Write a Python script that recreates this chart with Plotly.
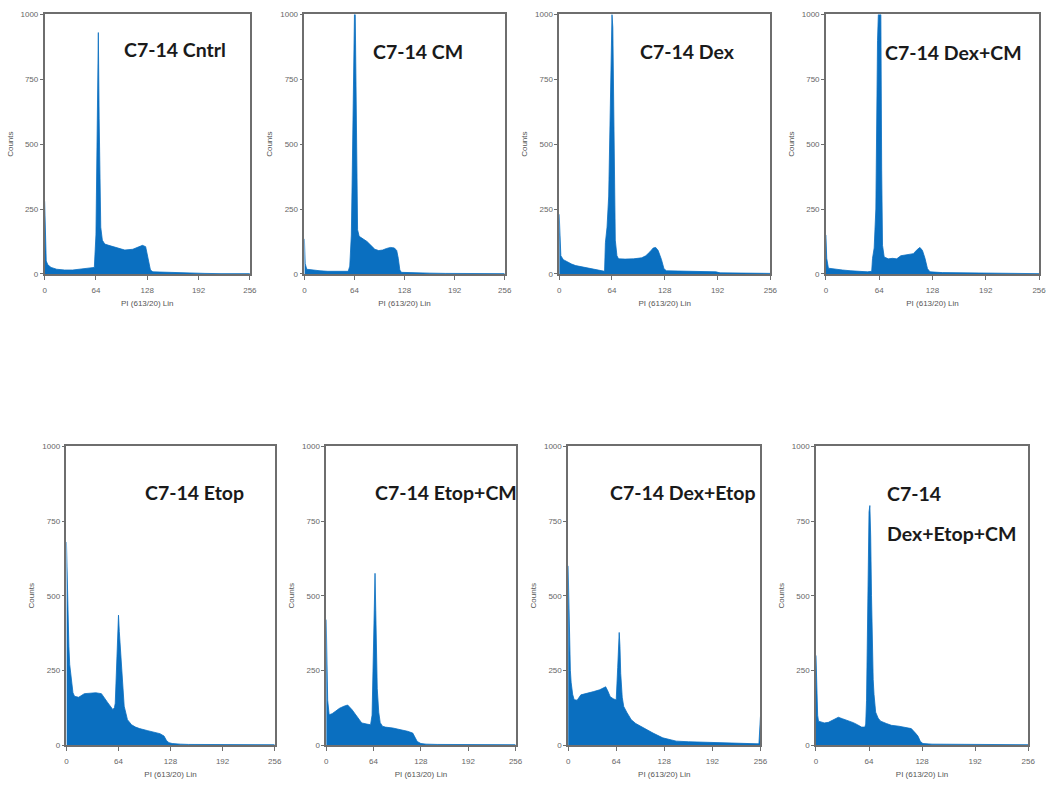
import plotly.graph_objects as go

# ---------------- data (channel, counts) ----------------
titles = ["C7-14 Cntrl", "C7-14 CM", "C7-14 Dex", "C7-14 Dex+CM",
          "C7-14 Etop", "C7-14 Etop+CM", "C7-14 Dex+Etop", "C7-14<br>Dex+Etop+CM"]

x_cntrl = [0, 1, 2, 4, 8, 15, 25, 35, 45, 55, 62, 64, 65, 66, 67, 68, 69, 70, 72, 75, 80, 90, 100,
           110, 118, 122, 126, 129, 132, 135, 150, 165, 180, 200, 220, 256]
y_cntrl = [280, 120, 50, 35, 25, 18, 15, 15, 18, 22, 25, 150, 400, 700, 930, 600, 300, 180, 130, 115,
           110, 100, 92, 95, 105, 110, 105, 60, 15, 8, 6, 4, 3, 2, 1, 1]

x_cm = [0, 1, 3, 10, 20, 30, 40, 50, 56, 58, 60, 61, 62, 63, 64, 65, 66, 67, 68, 70, 75, 80, 85,
        90, 95, 100, 105, 110, 115, 118, 120, 122, 124, 140, 160, 180, 256]
y_cm = [135, 40, 18, 15, 12, 10, 10, 8, 10, 30, 150, 350, 650, 900, 1000, 1000, 700, 350, 170, 145,
        135, 125, 110, 95, 90, 92, 98, 102, 100, 90, 60, 15, 6, 4, 3, 2, 1]

x_dex = [0, 1, 2, 5, 10, 15, 20, 30, 40, 50, 55, 56, 58, 60, 62, 63, 64, 65, 66, 67, 68, 70, 72,
         80, 90, 100, 105, 110, 114, 117, 120, 124, 127, 130, 150, 170, 190, 195, 220, 256]
y_dex = [230, 100, 70, 55, 45, 38, 32, 25, 18, 12, 10, 120, 180, 300, 600, 850, 1000, 950, 600, 250,
         130, 70, 58, 57, 58, 62, 70, 85, 100, 102, 90, 55, 20, 12, 10, 9, 8, 4, 3, 2]

x_dexcm = [0, 1, 3, 10, 20, 30, 40, 50, 55, 56, 58, 60, 62, 63, 64, 65, 66, 67, 68, 70, 75, 80, 85,
           90, 95, 100, 105, 110, 113, 116, 119, 122, 125, 140, 160, 175, 200, 256]
y_dexcm = [150, 60, 22, 18, 15, 12, 10, 8, 10, 60, 100, 250, 900, 1000, 1000, 1000, 1000, 400, 110, 65,
           58, 60, 58, 70, 72, 75, 78, 95, 102, 90, 60, 20, 8, 5, 4, 3, 1, 1]

x_etop = [0, 1, 2, 3, 4, 6, 8, 10, 15, 22, 30, 36, 43, 48, 51, 57, 59, 60, 62, 63, 64, 65, 67, 69,
          71, 75, 80, 85, 90, 100, 110, 115, 120, 123, 126, 130, 140, 150, 256]
y_etop = [680, 520, 420, 330, 270, 210, 175, 163, 160, 172, 175, 175, 172, 150, 141, 119, 125, 140,
          300, 420, 435, 380, 290, 200, 130, 85, 68, 60, 55, 48, 42, 38, 30, 15, 8, 5, 3, 2, 1]

x_etopcm = [0, 1, 2, 4, 8, 12, 18, 24, 29, 35, 42, 48, 55, 60, 62, 63, 64, 65, 66, 67, 68, 69, 71,
            73, 76, 80, 90, 100, 110, 117, 120, 123, 128, 135, 150, 256]
y_etopcm = [420, 240, 150, 101, 105, 112, 123, 130, 134, 118, 96, 74, 70, 68, 100, 250, 420, 560,
            575, 450, 300, 190, 110, 75, 63, 60, 57, 52, 46, 40, 28, 12, 5, 3, 2, 1]

x_dexetop = [0, 1, 2, 3, 4, 6, 8, 12, 17, 25, 34, 42, 50, 53, 56, 60, 64, 66, 67, 68, 69, 70, 72,
             74, 78, 84, 90, 100, 113, 126, 144, 160, 175, 200, 241, 253, 254, 255, 256]
y_dexetop = [600, 450, 330, 250, 210, 170, 152, 150, 168, 172, 179, 185, 195, 180, 162, 155, 151, 260,
             360, 377, 330, 240, 160, 129, 110, 85, 72, 57, 40, 24, 13, 11, 10, 7, 5, 4, 6, 60, 96]

x_all = [0, 1, 2, 3, 6, 10, 15, 19, 23, 27, 32, 39, 45, 50, 55, 59, 60, 61, 62, 63, 64, 65, 66, 67,
         68, 69, 70, 72, 75, 78, 85, 91, 100, 107, 115, 120, 123, 126, 129, 140, 160, 175, 256]
y_all = [300, 150, 100, 80, 77, 74, 76, 82, 88, 93, 88, 82, 75, 68, 60, 60, 70, 150, 400, 650, 780,
         802, 700, 500, 320, 220, 170, 110, 90, 80, 72, 66, 63, 60, 55, 40, 30, 12, 5, 3, 3, 2, 1]

series_x = [x_cntrl, x_cm, x_dex, x_dexcm, x_etop, x_etopcm, x_dexetop, x_all]
series_y = [y_cntrl, y_cm, y_dex, y_dexcm, y_etop, y_etopcm, y_dexetop, y_all]

x_ticks = [0, 64, 128, 192, 256]
y_ticks = [0, 250, 500, 750, 1000]

# ---------------- layout geometry (pixels in a 1053x796 page) ----------------
W, H = 1053, 796
panels_px = [  # left, right, top, bottom
    (43, 250, 10.5, 273), (305, 507, 10.5, 273), (562, 775, 10.5, 273), (831, 1046, 10.5, 273),
    (65, 275, 447.5, 749.5), (327, 518, 447.5, 749.5), (571, 765, 447.5, 749.5), (821, 1035, 447.5, 749.5),
]
title_px = [  # left x, centre y of the first title line
    (121, 46), (372, 48), (641, 48), (889, 49),
    (142, 494), (374, 494), (611, 494), (891, 495),
]
LINE_GAP = 41  # vertical distance between the two lines of a wrapped title

TFONT = "Lato, Liberation Sans, sans-serif"
FONT = "Liberation Sans, Arial, sans-serif"
BLUE = "#0A6FC0"
AXC = "#6E6E6E"

fig = go.Figure()
annotations = []
layout_axes = {}
for i in range(8):
    l, r, t, b = panels_px[i]
    n = "" if i == 0 else str(i + 1)
    xa, ya = "x" + n, "y" + n
    fig.add_trace(go.Scatter(
        x=series_x[i], y=series_y[i], xaxis=xa, yaxis=ya, mode="lines",
        line=dict(color=BLUE, width=0.8), fill="tozeroy", fillcolor=BLUE,
        showlegend=False, hoverinfo="x+y"))
    layout_axes["xaxis" + n] = dict(
        domain=[l / W, r / W], anchor=ya, range=[0, 256], tickvals=x_ticks,
        ticktext=[str(v) for v in x_ticks], showgrid=False, zeroline=False,
        showline=True, mirror=True, linecolor=AXC, linewidth=1.5,
        ticks="outside", ticklen=4, tickcolor=AXC, ticklabelstandoff=4,
        tickfont=dict(family=FONT, size=8, color="#666666"),
        title=dict(text="PI (613/20) Lin", font=dict(family=FONT, size=8, color="#555555"), standoff=6))
    layout_axes["yaxis" + n] = dict(
        domain=[1 - b / H, 1 - t / H], anchor=xa, range=[0, 1000], tickvals=y_ticks,
        ticktext=[str(v) for v in y_ticks], showgrid=False, zeroline=False,
        showline=True, mirror=True, linecolor=AXC, linewidth=1.5,
        ticks="outside", ticklen=3, tickcolor=AXC,
        tickfont=dict(family=FONT, size=8, color="#666666"),
        title=dict(text="Counts", font=dict(family=FONT, size=8, color="#555555"), standoff=6))
    tx, ty = title_px[i]
    for k, line in enumerate(titles[i].split("<br>")):
        annotations.append(dict(
            text="<b>" + line + "</b>", xref="paper", yref="paper",
            x=tx / W, y=1 - (ty + k * LINE_GAP) / H, xanchor="left", yanchor="middle", align="left",
            showarrow=False, font=dict(family=TFONT, size=19.5, color="#1a1a1a")))

fig.update_layout(
    width=W, height=H, margin=dict(l=0, r=0, t=0, b=0),
    paper_bgcolor="white", plot_bgcolor="white",
    annotations=annotations, **layout_axes)

fig.write_html("out.html")
